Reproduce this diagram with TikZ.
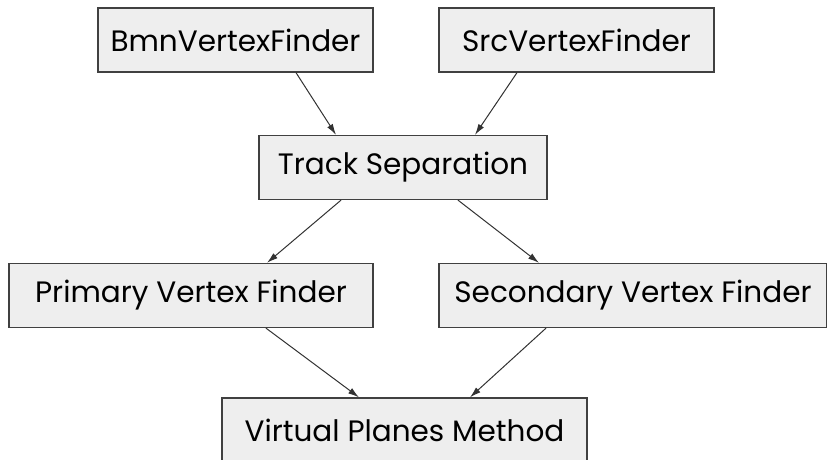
\documentclass[tikz,border=0pt]{standalone}
\usepackage{xcolor,tikz,fontspec}
\setmainfont{Poppins}
\usetikzlibrary{arrows.meta,positioning}
\definecolor{boxfill}{RGB}{238,238,238}
\definecolor{boxline}{RGB}{64,64,64}
\definecolor{edge}{RGB}{50,50,50}
\tikzset{
  arr/.style={-{Latex[length=11pt,width=6.5pt]},line width=1pt,draw=edge},
  stage/.style={draw=boxline,fill=boxfill,line width=1.3pt,minimum height=64pt,inner sep=0pt,font=\fontsize{29.5}{34}\selectfont}
}
\begin{document}
\begin{tikzpicture}[x=1pt,y=-1pt]
  \useasboundingbox (0,0) rectangle (827,460);
  \node[stage,minimum width=275pt] (bmn) at (235.5,40) {BmnVertexFinder};
  \node[stage,minimum width=275pt] (src) at (576.5,40) {SrcVertexFinder};
  \node[stage,minimum width=288pt] (sep) at (403,167.5) {Track Separation};
  \node[stage,minimum width=364pt] (prim) at (191,295.5) {Primary Vertex Finder};
  \node[stage,minimum width=388pt] (sec) at (633,295.5) {Secondary Vertex Finder};
  \node[stage,minimum width=365pt] (virt) at (404.5,430) {Virtual Planes Method};

  \draw[arr] ([xshift=60.5pt]bmn.south) -- ([xshift=-67pt]sep.north);
  \draw[arr] ([xshift=-59.5pt]src.south) -- ([xshift=72pt]sep.north);
  \draw[arr] ([xshift=-62pt]sep.south) -- ([xshift=76pt]prim.north);
  \draw[arr] ([xshift=55pt]sep.south) -- ([xshift=-94pt]sec.north);
  \draw[arr] ([xshift=75pt]prim.south) -- ([xshift=-45.5pt]virt.north);
  \draw[arr] ([xshift=-87pt]sec.south) -- ([xshift=65.5pt]virt.north);
\end{tikzpicture}
\end{document}
